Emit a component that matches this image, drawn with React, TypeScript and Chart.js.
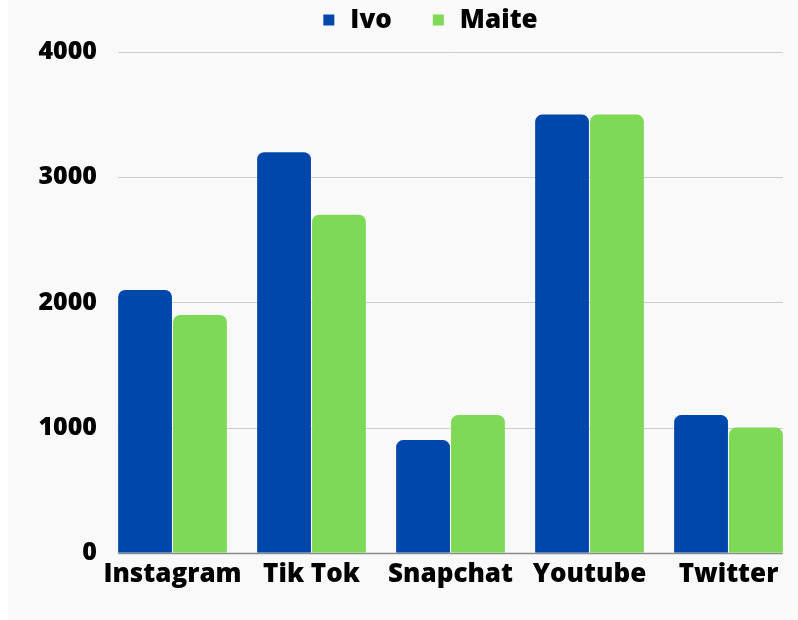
import React, { useEffect, useRef } from "react";
import { Chart, registerables } from "chart.js";

Chart.register(...registerables);

const categories = ["Instagram", "Tik Tok", "Snapchat", "Youtube", "Twitter"];
const ivoValues = [2100, 3200, 900, 3500, 1100];
const maiteValues = [1900, 2700, 1100, 3500, 1000];
const seriesNames = ["Ivo", "Maite"];
const seriesColors = ["#0047AB", "#7ED957"];
const yTicks = [0, 1000, 2000, 3000, 4000];

const FONT = "'Open Sans', 'DejaVu Sans', sans-serif";

const gridPlugin = {
  id: "customGrid",
  beforeDatasetsDraw(chart: any) {
    const ctx = chart.ctx;
    const m0 = chart.getDatasetMeta(0);
    const m1 = chart.getDatasetMeta(chart.data.datasets.length - 1);
    const first = m0.data[0];
    const last = m1.data[m1.data.length - 1];
    const x0 = first.x - first.width / 2;
    const x1 = last.x + last.width / 2;
    const y = chart.scales.y;
    ctx.save();
    yTicks.forEach((v) => {
      const py = Math.round(y.getPixelForValue(v)) + 0.5;
      ctx.beginPath();
      ctx.strokeStyle = v === 0 ? "#8c8c8c" : "#cdcdcd";
      ctx.lineWidth = v === 0 ? 1.5 : 1;
      ctx.moveTo(x0, py);
      ctx.lineTo(x1, py);
      ctx.stroke();
    });
    ctx.restore();
  },
};

const legendPlugin = {
  id: "customLegend",
  afterDraw(chart: any) {
    const ctx = chart.ctx;
    ctx.save();
    ctx.font = `800 26px ${FONT}`;
    ctx.textBaseline = "middle";
    const box = 11;
    const gap = 16;
    const spacing = 41;
    const widths = seriesNames.map((n) => box + gap + ctx.measureText(n).width);
    const total = widths.reduce((a, b) => a + b, 0) + spacing * (widths.length - 1);
    let x = 422.5 - total / 2;
    const cy = 20;
    seriesNames.forEach((n, i) => {
      ctx.fillStyle = seriesColors[i];
      ctx.fillRect(x, cy - box / 2, box, box);
      ctx.fillStyle = "#000";
      ctx.fillText(n, x + box + gap, cy + 1);
      x += widths[i] + spacing;
    });
    ctx.restore();
  },
};

export default function App() {
  const ref = useRef<HTMLCanvasElement | null>(null);
  useEffect(() => {
    if (!ref.current) return;
    const chart = new Chart(ref.current, {
      type: "bar",
      data: {
        labels: categories,
        datasets: [
          {
            label: seriesNames[0],
            data: ivoValues,
            backgroundColor: seriesColors[0],
            borderRadius: 7,
            categoryPercentage: 0.79,
            barPercentage: 0.98,
          },
          {
            label: seriesNames[1],
            data: maiteValues,
            backgroundColor: seriesColors[1],
            borderRadius: 7,
            categoryPercentage: 0.79,
            barPercentage: 0.98,
          },
        ],
      },
      options: {
        animation: false,
        responsive: false,
        maintainAspectRatio: false,
        layout: { padding: { top: 52, left: 0, right: 0, bottom: 24 } },
        plugins: {
          legend: { display: false },
          tooltip: { enabled: false },
        },
        scales: {
          x: {
            grid: { display: false, drawTicks: false },
            border: { display: false },
            ticks: {
              color: "#000",
              padding: 6,
              font: { family: FONT, size: 26, weight: "800" as any },
              maxRotation: 0,
              autoSkip: false,
            },
          },
          y: {
            min: 0,
            max: 4000,
            afterFit(scale: any) {
              scale.width = 95;
            },
            afterBuildTicks(scale: any) {
              scale.ticks = yTicks.map((v) => ({ value: v }));
            },
            grid: { display: false, drawTicks: false },
            border: { display: false },
            ticks: {
              color: "#000",
              padding: 6,
              font: { family: FONT, size: 25, weight: "800" as any },
              callback: (v: any) => String(v),
            },
          },
        },
      },
      plugins: [gridPlugin, legendPlugin],
    });
    return () => chart.destroy();
  }, []);
  return (
    <div
      style={{
        position: "absolute",
        left: 8,
        top: 0,
        background: "#f9f9f9",
        width: 790,
        height: 620,
      }}
    >
      <canvas ref={ref} width={790} height={620} style={{ display: "block" }} />
    </div>
  );
}
